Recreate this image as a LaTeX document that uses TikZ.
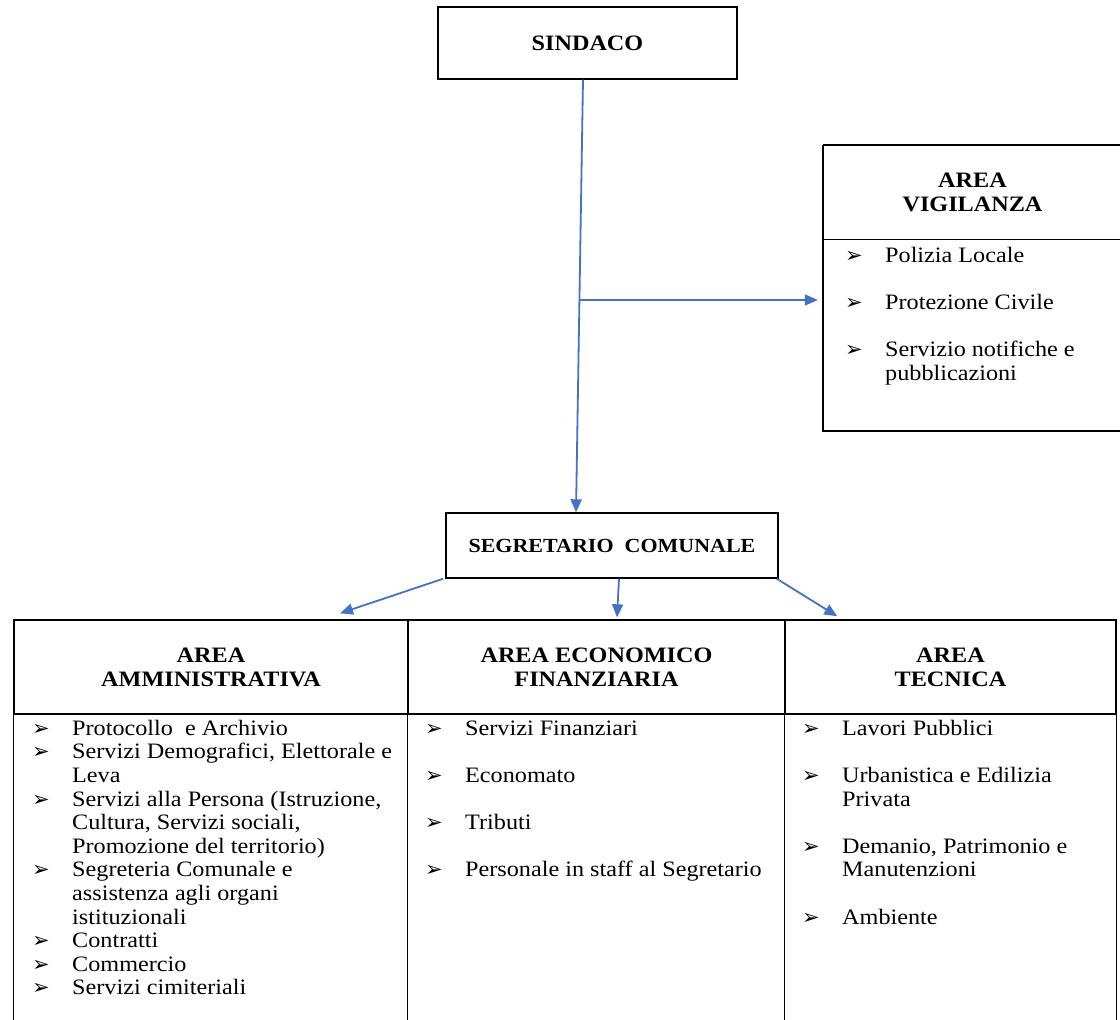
\documentclass[tikz,border=0pt]{standalone}
\usepackage{fontspec}
\setmainfont{Liberation Serif}[FakeStretch=1.1]
\newfontfamily\symfont{DejaVu Sans}
\usetikzlibrary{arrows.meta,positioning}

\definecolor{linkblue}{HTML}{4472C4}
\newcommand{\bul}{\makebox[40pt][l]{\symfont\fontsize{21}{21}\selectfont ➢}}

\begin{document}
\begin{tikzpicture}[x=1pt,y=-1pt,
                    box/.style={draw,line width=1.4pt,inner sep=0pt},
                    title node/.style={box,font=\fontsize{22}{24}\selectfont\bfseries,align=center},
                    area head/.style={inner sep=0pt,minimum height=94pt,font=\fontsize{22}{24}\selectfont\bfseries,align=center},
                    area node/.style={box,area head},
                    list node/.style={inner sep=0pt,anchor=north west,font=\fontsize{22}{23.6}\selectfont},
                    link/.style={draw=linkblue,line width=1.8pt,-{Triangle[length=13pt,width=11pt]}}]

  \useasboundingbox (0,0) rectangle (1120,1020);

  \node[title node,minimum width=299pt,minimum height=72pt] (sindaco) at (587.5,43) {SINDACO};
  \node[title node,minimum width=332pt,minimum height=65pt,font=\fontsize{20}{24}\selectfont\bfseries] (segretario) at (612,545.5) {SEGRETARIO\ \ COMUNALE};

  % area vigilanza (open on the right, cut by the page)
  \node[area head,minimum width=299pt] (vig) at (972.5,192) {AREA\\VIGILANZA};
  \draw[box] (vig.north west) -- ++(320,0)
             (vig.south west) -- ++(320,0)
             (vig.north west) -- ++(0,286) -- ++(320,0);
  \node[list node] (viglist) at (845,245.5) {%
    \begin{tabular}{@{}l@{}l@{}}
      \bul & Polizia Locale\\ & \\
      \bul & Protezione Civile\\ & \\
      \bul & Servizio notifiche e\\
           & pubblicazioni
    \end{tabular}};

  % aree sotto il segretario
  \node[area node,minimum width=394pt] (amm) at (211,667) {AREA\\AMMINISTRATIVA};
  \node[area node,minimum width=377pt] (eco) at (596.5,667) {AREA ECONOMICO\\FINANZIARIA};
  \node[area node,minimum width=331pt] (tec) at (950.5,667) {AREA\\TECNICA};
  \draw[box] (amm.south west) -- ++(0,320)
             (eco.south west) -- ++(0,320)
             (tec.south west) -- ++(0,320)
             (tec.south east) -- ++(0,320);

  \node[list node] (ammlist) at (32,718.5) {%
    \begin{tabular}{@{}l@{}l@{}}
      \bul & Protocollo\ \ e Archivio\\
      \bul & Servizi Demografici, Elettorale e\\
           & Leva\\
      \bul & Servizi alla Persona (Istruzione,\\
           & Cultura, Servizi sociali,\\
           & Promozione del territorio)\\
      \bul & Segreteria Comunale e\\
           & assistenza agli organi\\
           & istituzionali\\
      \bul & Contratti\\
      \bul & Commercio\\
      \bul & Servizi cimiteriali
    \end{tabular}};
  \node[list node] (ecolist) at (425,718.5) {%
    \begin{tabular}{@{}l@{}l@{}}
      \bul & Servizi Finanziari\\ & \\
      \bul & Economato\\ & \\
      \bul & Tributi\\ & \\
      \bul & Personale in staff al Segretario
    \end{tabular}};
  \node[list node] (teclist) at (802,718.5) {%
    \begin{tabular}{@{}l@{}l@{}}
      \bul & Lavori Pubblici\\ & \\
      \bul & Urbanistica e Edilizia\\
           & Privata\\ & \\
      \bul & Demanio, Patrimonio e\\
           & Manutenzioni\\ & \\
      \bul & Ambiente
    \end{tabular}};

  % collegamenti
  \coordinate (branch) at (579.5,300);
  \draw[link] ([xshift=-4.5pt]sindaco.south) -- ([xshift=-36pt]segretario.north);
  \draw[link,shorten >=5pt] (branch) -- (branch -| vig.west);
  \draw[link] ([shift={(-2,0)}]segretario.south west) -- ([shift={(129,-6)}]amm.north);
  \draw[link] ([shift={(7,0)}]segretario.south) -- ([shift={(20.5,-2)}]eco.north);
  \draw[link] ([shift={(-2,0)}]segretario.south east) -- ([shift={(53,-3)}]tec.north west);
\end{tikzpicture}
\end{document}
